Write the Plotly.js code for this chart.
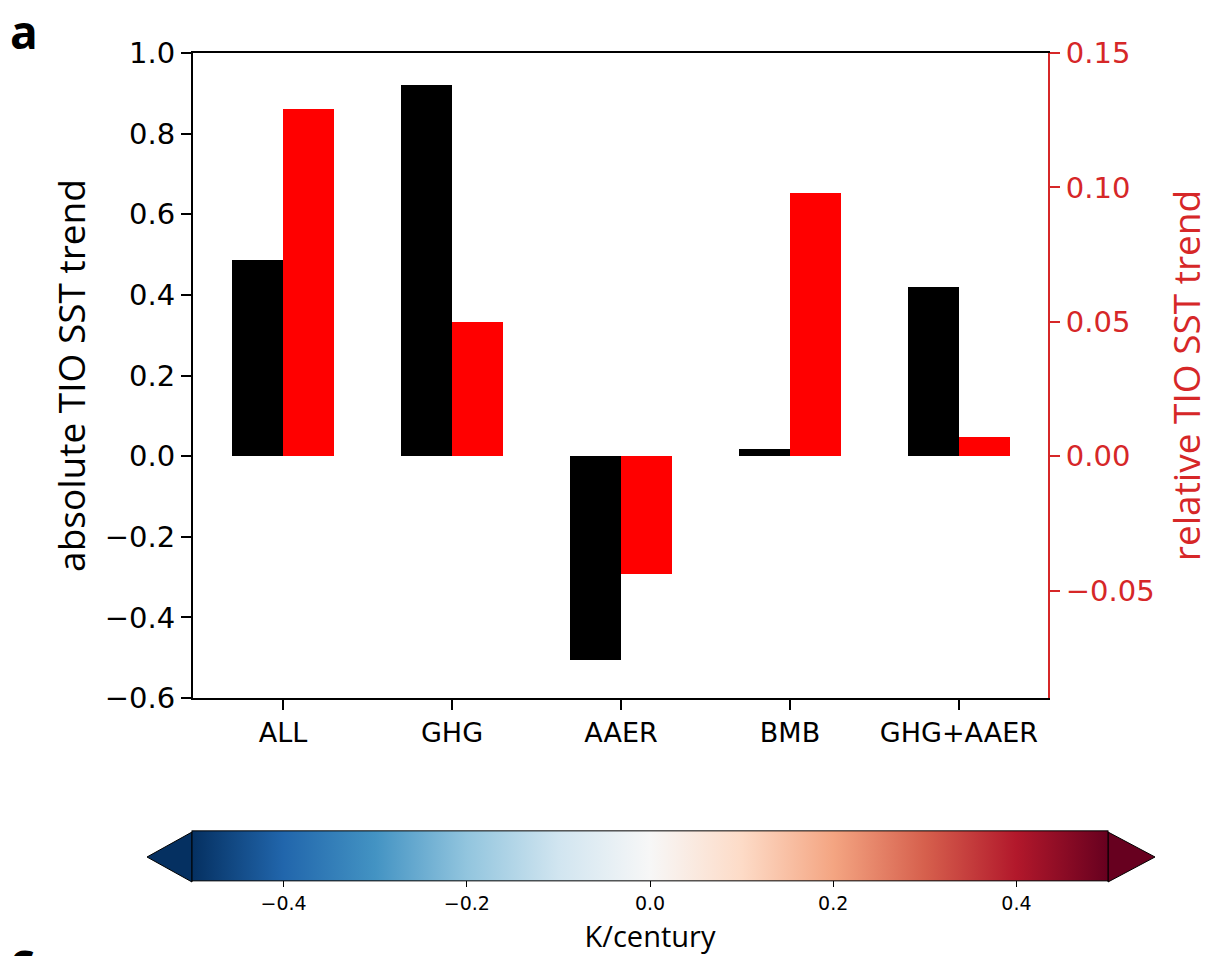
<!DOCTYPE html>
<html>
<head>
<meta charset="utf-8">
<script src="https://cdn.plot.ly/plotly-3.0.1.min.js"></script>
<style>html,body{margin:0;padding:0;background:#fff;}</style>
</head>
<body>
<div id="chart" style="width:1211px;height:956px;"></div>
<script>
// ---- data ----
const categories = ["ALL", "GHG", "AAER", "BMB", "GHG+AAER"];
const absoluteTrend = [0.486, 0.92, -0.505, 0.017, 0.419];
const relativeTrend = [0.129, 0.050, -0.044, 0.098, 0.007];
const leftTicks = [-0.6, -0.4, -0.2, 0.0, 0.2, 0.4, 0.6, 0.8, 1.0];
const rightTicks = [-0.05, 0.00, 0.05, 0.10, 0.15];
const cbarTicks = [-0.4, -0.2, 0.0, 0.2, 0.4];
const cbarRange = [-0.5, 0.5];
// matplotlib RdBu_r
const rdbuR = ["#053061","#2166ac","#4393c3","#92c5de","#d1e5f0","#f7f7f7","#fddbc7","#f4a582","#d6604d","#b2182b","#67001f"];

const idx = categories.map((_, i) => i);
const RED = "#d62728";

// plot area in pixels
const L = 193, R = 1048, T = 53, B = 698, W = 1211, H = 956;
const px = x => (x - L) / (R - L);
const py = y => (B - y) / (B - T);

const traces = [
  {
    type: "bar", x: idx, y: absoluteTrend, width: 0.3, offset: -0.3,
    marker: {color: "#000000", line: {width: 0}}, yaxis: "y", hoverinfo: "x+y"
  },
  {
    type: "bar", x: idx, y: relativeTrend, width: 0.3, offset: 0,
    marker: {color: "#ff0000", line: {width: 0}}, yaxis: "y2", hoverinfo: "x+y"
  },
  {
    type: "scatter", mode: "markers", x: [null], y: [null],
    marker: {color: [0], coloraxis: "coloraxis"}, showlegend: false, hoverinfo: "skip"
  }
];

const cbL = 192, cbR = 1108, cbT = 832, cbB = 882, tipL = 147, tipR = 1155;
const cbMid = (cbT + cbB) / 2;

const layout = {
  width: W, height: H,
  margin: {l: L, r: W - R, t: T, b: H - B, autoexpand: false},
  paper_bgcolor: "#ffffff", plot_bgcolor: "#ffffff",
  showlegend: false, barmode: "overlay", bargap: 0,
  font: {family: "DejaVu Sans", color: "#000000"},
  xaxis: {
    range: [-0.533, 4.527], tickvals: idx, ticktext: categories,
    ticks: "outside", ticklen: 10, tickwidth: 2, tickcolor: "#000",
    showline: true, linewidth: 2, linecolor: "#000", mirror: true,
    showgrid: false, zeroline: false,
    tickfont: {family: "DejaVu Sans", size: 27, color: "#000"}
  },
  yaxis: {
    range: [-0.6, 1.0], tickvals: leftTicks, tickformat: ".1f",
    ticks: "outside", ticklen: 10, tickwidth: 2, tickcolor: "#000",
    showline: true, linewidth: 2, linecolor: "#000",
    showgrid: false, zeroline: false,
    tickfont: {family: "DejaVu Sans", size: 29, color: "#000"},
    title: {text: "absolute TIO SST trend", font: {family: "Open Sans", size: 37, color: "#000"}, standoff: 8}
  },
  yaxis2: {
    overlaying: "y", side: "right", anchor: "x",
    range: [-0.09, 0.15], tickvals: rightTicks, tickformat: ".2f",
    ticks: "outside", ticklen: 10, tickwidth: 2, tickcolor: RED,
    showline: true, linewidth: 2, linecolor: RED,
    showgrid: false, zeroline: false,
    tickfont: {family: "DejaVu Sans", size: 29, color: RED},
    title: {text: "relative TIO SST trend", font: {family: "Open Sans", size: 37, color: RED}, standoff: 28}
  },
  coloraxis: {
    cmin: cbarRange[0], cmax: cbarRange[1],
    colorscale: rdbuR.map((c, i) => [i / (rdbuR.length - 1), c]),
    colorbar: {
      orientation: "h",
      lenmode: "pixels", len: cbR - cbL,
      thicknessmode: "pixels", thickness: cbB - cbT,
      x: px((cbL + cbR) / 2), xanchor: "center",
      y: py(cbMid + 36), yanchor: "middle",
      xpad: 0, ypad: 0,
      outlinewidth: 1, outlinecolor: "#000",
      tickvals: cbarTicks, tickformat: ".1f",
      ticks: "outside", ticklen: 6, tickwidth: 1, tickcolor: "#000",
      tickfont: {family: "DejaVu Sans", size: 19, color: "#000"},
      title: {text: "K/century", side: "bottom", font: {family: "Open Sans", size: 29, color: "#000"}}
    }
  },
  shapes: [
    {type: "path", xref: "paper", yref: "paper",
     path: `M ${px(cbL)} ${py(cbT)} L ${px(tipL)} ${py(cbMid)} L ${px(cbL)} ${py(cbB)} Z`,
     fillcolor: rdbuR[0], line: {color: "#000", width: 1}},
    {type: "path", xref: "paper", yref: "paper",
     path: `M ${px(cbR)} ${py(cbT)} L ${px(tipR)} ${py(cbMid)} L ${px(cbR)} ${py(cbB)} Z`,
     fillcolor: rdbuR[rdbuR.length - 1], line: {color: "#000", width: 1}}
  ],
  annotations: [
    {text: "<b>a</b>", xref: "paper", yref: "paper", x: px(8), y: py(-2),
     xanchor: "left", yanchor: "top", showarrow: false,
     font: {family: "Open Sans", size: 46, color: "#000"}},
    {text: "<b>c</b>", xref: "paper", yref: "paper", x: px(8), y: py(925),
     xanchor: "left", yanchor: "top", showarrow: false,
     font: {family: "Open Sans", size: 48, color: "#000"}}
  ]
};

Plotly.newPlot("chart", traces, layout, {displayModeBar: false, staticPlot: true});
</script>
</body>
</html>
